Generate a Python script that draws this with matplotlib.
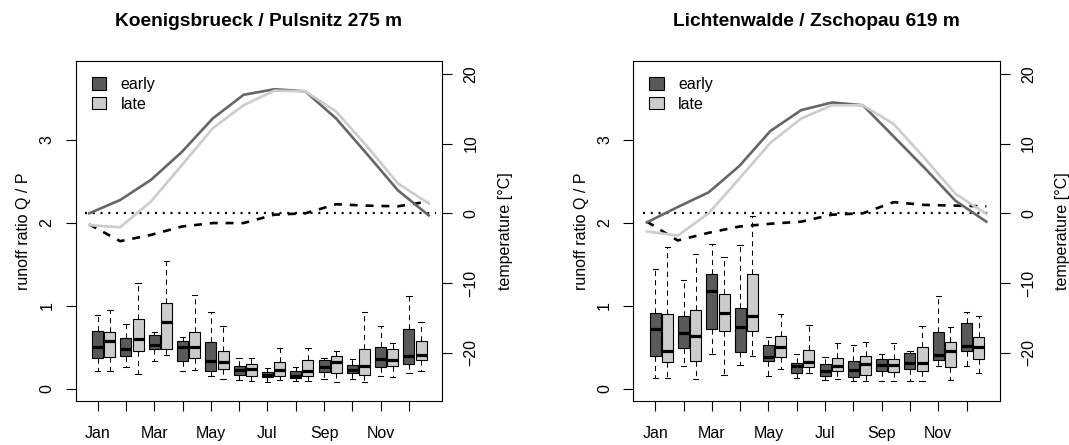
import matplotlib
matplotlib.use("Agg")
import matplotlib.pyplot as plt
from matplotlib.patches import Patch
import numpy as np

plt.rcParams['font.family'] = ['Liberation Sans', 'DejaVu Sans']
plt.rcParams['axes.unicode_minus'] = True

months = ["Jan", "Feb", "Mar", "Apr", "May", "Jun", "Jul", "Aug", "Sep", "Oct", "Nov", "Dec"]
month_labels = ["Jan", "", "Mar", "", "May", "", "Jul", "", "Sep", "", "Nov", ""]
titles = ["Koenigsbrueck / Pulsnitz 275 m", "Lichtenwalde / Zschopau 619 m"]

# ---- Koenigsbrueck: runoff ratio boxplot stats (whislo, q1, med, q3, whishi)
kb_early_lo = [0.21, 0.26, 0.33, 0.21, 0.15, 0.11, 0.08, 0.09, 0.12, 0.12, 0.15, 0.19]
kb_early_q1 = [0.37, 0.40, 0.48, 0.34, 0.21, 0.17, 0.14, 0.13, 0.20, 0.19, 0.26, 0.30]
kb_early_md = [0.50, 0.48, 0.53, 0.51, 0.33, 0.23, 0.17, 0.16, 0.26, 0.23, 0.36, 0.39]
kb_early_q3 = [0.70, 0.61, 0.65, 0.58, 0.56, 0.28, 0.20, 0.21, 0.35, 0.29, 0.51, 0.72]
kb_early_hi = [0.89, 0.78, 0.68, 0.63, 0.93, 0.37, 0.25, 0.26, 0.37, 0.36, 0.76, 1.12]

kb_late_lo = [0.22, 0.18, 0.41, 0.23, 0.12, 0.10, 0.11, 0.10, 0.08, 0.08, 0.14, 0.22]
kb_late_q1 = [0.38, 0.46, 0.48, 0.37, 0.24, 0.16, 0.16, 0.15, 0.19, 0.17, 0.28, 0.35]
kb_late_md = [0.58, 0.60, 0.81, 0.51, 0.32, 0.24, 0.23, 0.21, 0.32, 0.28, 0.35, 0.41]
kb_late_q3 = [0.68, 0.84, 1.04, 0.69, 0.46, 0.30, 0.32, 0.35, 0.39, 0.48, 0.48, 0.58]
kb_late_hi = [0.95, 1.28, 1.54, 1.13, 0.76, 0.37, 0.49, 0.49, 0.45, 0.92, 0.55, 0.81]

# ---- Koenigsbrueck: temperature [°C]
kb_temp_early = [0.0, 1.9, 4.8, 8.8, 13.6, 17.0, 17.8, 17.5, 13.6, 8.5, 3.3, -0.3]
kb_temp_late = [-1.7, -2.0, 1.7, 6.9, 12.2, 15.5, 17.6, 17.5, 14.6, 9.6, 4.3, 1.4]
kb_temp_diff = [-1.6, -4.0, -3.1, -1.9, -1.4, -1.4, -0.2, 0.0, 1.3, 1.1, 1.0, 1.7]

# ---- Lichtenwalde: runoff ratio boxplot stats
lw_early_lo = [0.13, 0.27, 0.42, 0.29, 0.15, 0.13, 0.11, 0.10, 0.10, 0.10, 0.27, 0.27]
lw_early_q1 = [0.40, 0.49, 0.72, 0.44, 0.33, 0.19, 0.15, 0.14, 0.22, 0.24, 0.35, 0.45]
lw_early_md = [0.72, 0.67, 1.18, 0.75, 0.38, 0.27, 0.21, 0.23, 0.29, 0.31, 0.41, 0.52]
lw_early_q3 = [0.91, 0.88, 1.39, 0.97, 0.53, 0.31, 0.30, 0.33, 0.36, 0.43, 0.68, 0.79]
lw_early_hi = [1.45, 1.31, 1.75, 1.73, 0.63, 0.42, 0.38, 0.53, 0.42, 0.46, 1.12, 0.92]

lw_late_lo = [0.13, 0.12, 0.17, 0.39, 0.24, 0.19, 0.12, 0.09, 0.10, 0.09, 0.11, 0.19]
lw_late_q1 = [0.32, 0.34, 0.70, 0.70, 0.38, 0.26, 0.21, 0.17, 0.20, 0.21, 0.26, 0.36]
lw_late_md = [0.45, 0.64, 0.91, 0.88, 0.50, 0.32, 0.27, 0.30, 0.29, 0.31, 0.46, 0.50]
lw_late_q3 = [0.90, 0.95, 1.14, 1.39, 0.64, 0.47, 0.37, 0.39, 0.36, 0.51, 0.56, 0.63]
lw_late_hi = [1.71, 1.63, 1.59, 2.08, 0.90, 0.77, 0.55, 0.57, 0.55, 0.76, 0.75, 0.88]

# ---- Lichtenwalde: temperature [°C]
lw_temp_early = [-1.3, 0.9, 3.0, 6.8, 11.8, 14.8, 15.9, 15.5, 11.0, 6.5, 1.8, -1.2]
lw_temp_late = [-2.6, -3.2, 0.0, 5.0, 10.1, 13.6, 15.5, 15.5, 12.8, 7.9, 2.8, -0.1]
lw_temp_diff = [-1.2, -3.9, -2.8, -1.9, -1.5, -1.2, -0.2, 0.0, 1.6, 1.2, 1.1, 1.0]

ratio_ticks = [0, 1, 2, 3]
temp_ticks = [-20, -10, 0, 10, 20]

DARK = "#595959"
LIGHT = "#cccccc"
LINE_DARK = "#666666"
LINE_LIGHT = "#cccccc"

W, H = 1069, 445
fig = plt.figure(figsize=(W / 100, H / 100), dpi=100)

FS = 11.5


def stats_list(lo, q1, md, q3, hi):
    return [dict(whislo=a, q1=b, med=c, q3=d, whishi=e, fliers=[])
            for a, b, c, d, e in zip(lo, q1, md, q3, hi)]


def panel(x0px, title, early, late, t_early, t_late, t_diff):
    left = x0px / W
    width = 366.6 / W
    bottom = (H - 401) / H
    height = 340 / H
    ax = fig.add_axes([left, bottom, width, height])
    pos = np.arange(1, 13)
    common = dict(widths=0.39, patch_artist=True, showfliers=False,
                  whiskerprops=dict(color="black", lw=0.75, linestyle=(0, (5, 4))),
                  capprops=dict(color="black", lw=0.75),
                  medianprops=dict(color="black", lw=2.3, solid_capstyle="butt"),
                  manage_ticks=False)
    b1 = ax.bxp(stats_list(*early), positions=pos, capwidths=0.19, **common)
    b2 = ax.bxp(stats_list(*late), positions=pos + 0.43, capwidths=0.19, **common)
    for b in b1["boxes"]:
        b.set_facecolor(DARK); b.set_edgecolor("black"); b.set_linewidth(0.8)
    for b in b2["boxes"]:
        b.set_facecolor(LIGHT); b.set_edgecolor("black"); b.set_linewidth(0.8)
    ax.set_xlim(0.223, 13.18)
    ax.set_ylim(-0.147, 3.952)
    ax.set_xticks(pos)
    ax.set_xticklabels(month_labels, fontsize=FS)
    ax.set_yticks(ratio_ticks)
    ax.set_yticklabels([str(v) for v in ratio_ticks], fontsize=FS, rotation=90, va="center")
    ax.tick_params(axis="both", direction="out", length=7.2, width=0.8, color="black")
    ax.tick_params(axis="x", pad=11)
    ax.tick_params(axis="y", pad=8)
    ax.set_ylabel("runoff ratio Q / P", fontsize=FS, labelpad=6)
    for s in ax.spines.values():
        s.set_linewidth(0.8)
    ax.set_title(title, fontsize=13.8, fontweight="bold", pad=25)

    # temperature overlay with its own scales
    ax2 = fig.add_axes([left, bottom, width, height], facecolor="none")
    tx = np.arange(1, 13)
    ax2.hlines(0, 0.86, 12.23, colors="black", lw=1.6, linestyles=[(0, (0.9, 2.6))])
    ax2.plot(tx, t_diff, color="black", lw=1.9, linestyle=(0, (3, 3)))
    ax2.plot(tx, t_early, color=LINE_DARK, lw=1.9, solid_joinstyle="round")
    ax2.plot(tx, t_late, color=LINE_LIGHT, lw=1.9, solid_joinstyle="round")
    ax2.set_xlim(0.56, 12.44)
    ax2.set_ylim(-26.93, 21.85)
    ax2.xaxis.set_visible(False)
    ax2.yaxis.tick_right()
    ax2.yaxis.set_label_position("right")
    ax2.set_yticks(temp_ticks)
    ax2.set_yticklabels([("\u2212" + str(-v)) if v < 0 else str(v) for v in temp_ticks],
                        fontsize=FS, rotation=90, va="center")
    ax2.tick_params(axis="y", direction="out", length=7.2, width=0.8, pad=8)
    ax2.set_ylabel("temperature [°C]", fontsize=FS, labelpad=14)
    for s in ax2.spines.values():
        s.set_visible(False)

    handles = [Patch(facecolor=DARK, edgecolor="black", lw=0.8, label="early"),
               Patch(facecolor=LIGHT, edgecolor="black", lw=0.8, label="late")]
    ax.legend(handles=handles, loc="upper left", frameon=False, fontsize=FS,
              handlelength=0.9, handleheight=0.8, handletextpad=0.9,
              labelspacing=0.3, borderaxespad=0.6)
    return ax, ax2


panel(75.7, titles[0],
      (kb_early_lo, kb_early_q1, kb_early_md, kb_early_q3, kb_early_hi),
      (kb_late_lo, kb_late_q1, kb_late_md, kb_late_q3, kb_late_hi),
      kb_temp_early, kb_temp_late, kb_temp_diff)
panel(633.3, titles[1],
      (lw_early_lo, lw_early_q1, lw_early_md, lw_early_q3, lw_early_hi),
      (lw_late_lo, lw_late_q1, lw_late_md, lw_late_q3, lw_late_hi),
      lw_temp_early, lw_temp_late, lw_temp_diff)

fig.savefig("out.png", dpi=100)
